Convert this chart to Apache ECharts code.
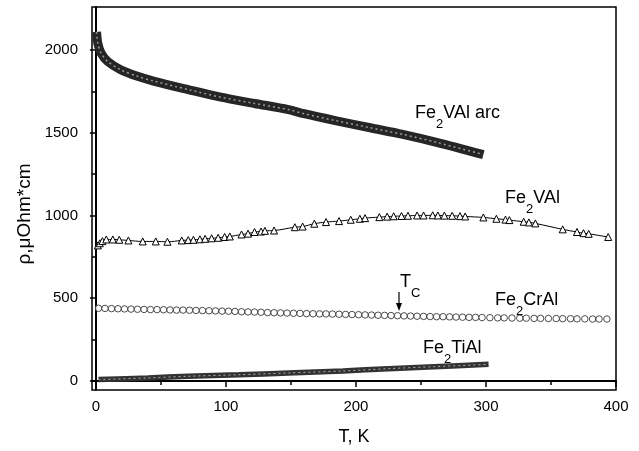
<!DOCTYPE html>
<html>
<head>
<meta charset="utf-8">
<script src="https://cdn.jsdelivr.net/npm/echarts@6/dist/echarts.min.js"></script>
<style>
html, body { margin: 0; padding: 0; background: #fff; }
#chart { width: 639px; height: 451px; }
</style>
</head>
<body>
<div id="chart"></div>
<script>
// Fe2VAl arc-melted sample (thick band of dense points)
const arcT = [0.5, 1.5, 4, 9, 19, 32, 45, 71, 96, 122, 148, 160, 185, 211, 236, 262, 298]
const arcRho = [2110, 2040, 1981, 1931, 1881, 1841, 1811, 1761, 1715, 1677, 1640, 1615, 1572, 1530, 1490, 1442, 1368]

// Fe2VAl (triangles)
const vT = [1.5, 3, 5, 8, 13, 18, 25, 36, 46, 55, 66, 71, 75, 80, 84, 89, 94, 99, 103, 112, 117, 122, 127, 130, 137,
  153, 159, 168, 177, 187, 196, 203, 207, 218, 224, 229, 235, 240, 247, 252, 259, 263, 268, 274, 280, 284,
  298, 308, 315, 318, 329, 333, 338, 359, 370, 375, 379, 394]
const vRho = [819, 832, 845, 855, 855, 853, 849, 843, 843, 841, 849, 851, 853, 856, 859, 862, 865, 870, 873, 885, 890, 900, 903, 907, 909,
  929, 933, 950, 960, 966, 974, 980, 984, 990, 993, 995, 997, 998, 1000, 1000, 1001, 1000, 999, 998, 996, 994,
  988, 980, 975, 972, 962, 958, 952, 916, 900, 893, 889, 870]

// Fe2CrAl (circles)
const crT = [2, 7, 12, 17, 22, 27, 32, 37, 42, 47, 52, 57, 62, 67, 72, 77, 82, 87, 92, 97,
  102, 107, 112, 117, 122, 127, 132, 137, 142, 147, 152, 157, 162, 167, 172, 177, 182, 187, 192, 197,
  202, 207, 212, 217, 222, 227, 232, 237, 242, 247, 252, 257, 262, 267, 272, 277, 282, 287, 292, 297,
  303, 309, 314, 320, 326, 331, 337, 342, 348, 354, 359, 365, 370, 376, 382, 387, 393]
const crRho = [439, 438, 437, 436, 435, 434, 433, 432, 431, 431, 430, 429, 428, 428, 427, 426, 425, 424, 423, 422,
  421, 420, 418, 417, 416, 415, 413, 412, 411, 410, 409, 408, 407, 406, 405, 405, 404, 403, 402, 401,
  400, 399, 398, 397, 396, 395, 394, 393, 392, 391, 390, 389, 388, 388, 387, 386, 385, 384, 384, 383,
  382, 381, 381, 380, 379, 379, 378, 378, 377, 377, 376, 376, 375, 375, 374, 374, 374]

// Fe2TiAl (dense crosses band)
const tiT = [2, 40, 71, 110, 148, 190, 225, 260, 302]
const tiRho = [8, 18, 28, 37, 48, 60, 74, 86, 100]

const xMajor = [0, 100, 200, 300, 400]
const xMinor = [50, 150, 250, 350]
const yMajor = [0, 500, 1000, 1500, 2000]
const yMinor = [250, 750, 1250, 1750]

const font = '"Liberation Sans", Arial, sans-serif'
const pair = (xs, ys) => xs.map((t, i) => [t, ys[i]])

const rich = {
  a: { fontSize: 18, lineHeight: 20, verticalAlign: 'top', fontFamily: font, fill: '#000' },
  s: { fontSize: 13, lineHeight: 14, verticalAlign: 'bottom', fontFamily: font, fill: '#000' },
  e: { fontSize: 10, lineHeight: 27, fontFamily: font }
}

const label = (text, x, y) => ({
  type: 'text',
  x,
  y,
  style: { text, rich, verticalAlign: 'top', align: 'left' }
})

const axisLabel = {
  fontSize: 15,
  color: '#000',
  fontFamily: font,
  formatter: v => String(v)
}

const chart = echarts.init(document.getElementById('chart'))

const option = {
  animation: false,
  backgroundColor: '#fff',
  grid: {
    left: 92,
    top: 7,
    right: 23,
    bottom: 59,
    show: true,
    borderColor: '#000',
    borderWidth: 1.5
  },
  xAxis: [
    {
      type: 'value',
      min: -3,
      max: 400,
      axisLine: { lineStyle: { color: '#000', width: 2 } },
      axisTick: { customValues: xMajor, length: 6, lineStyle: { color: '#000', width: 1.5 } },
      axisLabel: { ...axisLabel, customValues: xMajor, margin: 9 },
      splitLine: { show: false },
      name: 'T, K',
      nameLocation: 'middle',
      nameGap: 38,
      nameTextStyle: { fontSize: 18, color: '#000', fontFamily: font }
    },
    {
      type: 'value',
      min: -3,
      max: 400,
      position: 'bottom',
      axisLine: { show: false },
      axisTick: { customValues: xMinor, length: 4, lineStyle: { color: '#000', width: 1.5 } },
      axisLabel: { show: false },
      splitLine: { show: false }
    }
  ],
  yAxis: [
    {
      type: 'value',
      min: -55,
      max: 2260,
      axisLine: { show: true, lineStyle: { color: '#000', width: 2 } },
      axisTick: { show: true, customValues: yMajor, length: 6, lineStyle: { color: '#000', width: 1.5 } },
      axisLabel: { ...axisLabel, customValues: yMajor, margin: 14 },
      splitLine: { show: false }
    },
    {
      type: 'value',
      min: -55,
      max: 2260,
      position: 'left',
      axisLine: { show: false },
      axisTick: { show: true, customValues: yMinor, length: 4, lineStyle: { color: '#000', width: 1.5 } },
      axisLabel: { show: false },
      splitLine: { show: false }
    }
  ],
  series: [
    {
      type: 'line',
      data: pair(arcT, arcRho),
      smooth: 0.3,
      symbol: 'none',
      lineStyle: { width: 9, color: '#262626' }
    },
    {
      type: 'line',
      data: pair(arcT, arcRho),
      smooth: 0.3,
      symbol: 'none',
      lineStyle: { width: 1.5, color: '#9a9a9a', type: [2, 3] }
    },
    {
      type: 'line',
      data: pair(vT, vRho),
      smooth: 0.4,
      symbol: 'triangle',
      symbolSize: 7,
      showAllSymbol: true,
      lineStyle: { width: 1, color: '#000' },
      itemStyle: { color: '#fff', borderColor: '#000', borderWidth: 1 }
    },
    {
      type: 'scatter',
      data: pair(crT, crRho),
      symbol: 'circle',
      symbolSize: 6.5,
      itemStyle: { color: '#fff', borderColor: '#222', borderWidth: 1 }
    },
    {
      type: 'line',
      data: pair(tiT, tiRho),
      smooth: 0.3,
      symbol: 'none',
      lineStyle: { width: 5.5, color: '#333' }
    },
    {
      type: 'line',
      data: pair(tiT, tiRho),
      smooth: 0.3,
      symbol: 'none',
      lineStyle: { width: 1, color: '#aaa', type: [2, 3] }
    }
  ],
  graphic: [
    {
      type: 'text',
      x: 25,
      y: 214,
      rotation: Math.PI / 2,
      style: {
        text: 'ρ,μOhm*cm',
        fontSize: 19,
        fontFamily: font,
        fill: '#000',
        align: 'center',
        verticalAlign: 'middle'
      }
    },
    label('{a|Fe}{s|2}{a|VAl arc}{e| }', 415, 104),
    label('{a|Fe}{s|2}{a|VAl}{e| }', 505, 189),
    label('{a|Fe}{s|2}{a|CrAl}{e| }', 495, 291),
    label('{a|Fe}{s|2}{a|TiAl}{e| }', 423, 339),
    label('{a|T}{s|C}{e| }', 400, 273),
    {
      type: 'line',
      shape: { x1: 399, y1: 292, x2: 399, y2: 305 },
      style: { stroke: '#000', lineWidth: 1.2 }
    },
    {
      type: 'polygon',
      shape: { points: [[396, 303], [402, 303], [399, 311]] },
      style: { fill: '#000' }
    }
  ]
}

chart.setOption(option)
</script>
</body>
</html>
